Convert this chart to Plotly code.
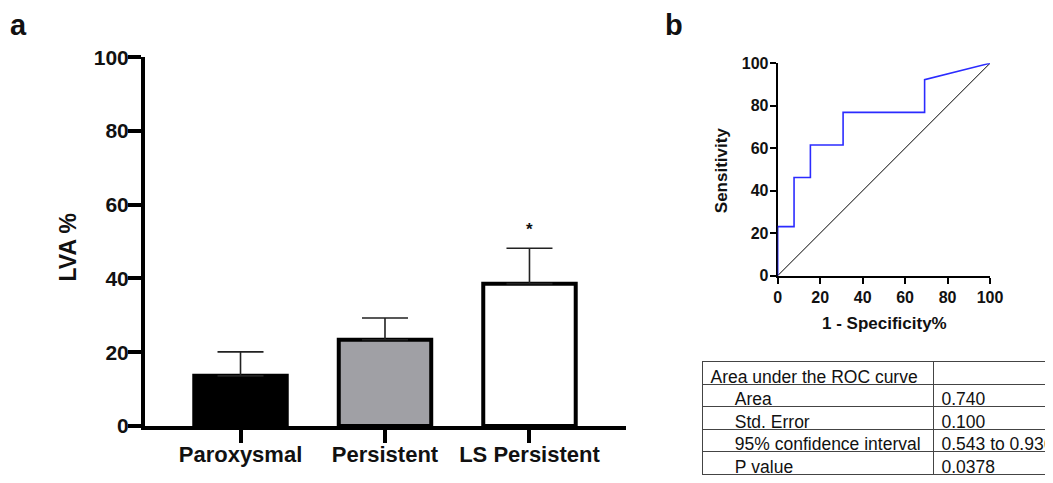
import plotly.graph_objects as go

W, H = 1053, 483
OFF = 8  # page body margin offset of the figure on screen

# ---------------- data ----------------
groups = ["Paroxysmal", "Persistent", "LS Persistent"]
lva_mean = [13.6, 23.4, 38.6]
lva_err = [6.5, 5.9, 9.6]
bar_colors = ["#000000", "#a0a0a5", "#ffffff"]
y_ticks = [0, 20, 40, 60, 80, 100]

roc_fpr = [0, 0, 7.7, 7.7, 15.4, 15.4, 30.8, 30.8, 69.2, 69.2, 100]
roc_tpr = [0, 23.1, 23.1, 46.2, 46.2, 61.5, 61.5, 76.9, 76.9, 92.3, 100]
ref_line = [0, 100]
roc_ticks = [0, 20, 40, 60, 80, 100]

table_labels = ["Area under the ROC curve", "Area", "Std. Error",
                "95% confidence interval", "P value"]
table_values = ["", "0.740", "0.100", "0.543 to 0.936", "0.0378"]
table_indent = [0, 1, 1, 1, 1]

FONT = "Liberation Sans, Arial, Helvetica, sans-serif"


def px_x(p):
    return (p - OFF) / W


def px_y(p):
    return (H - (p - OFF)) / H


def nowrap(s):
    return s.replace(" ", "\u00a0")


fig = go.Figure()

# ---------------- panel a: bars ----------------
fig.add_trace(go.Bar(
    x=groups, y=lva_mean,
    marker=dict(color=bar_colors, line=dict(color="#000000", width=4)),
    width=0.64,
    error_y=dict(type="data", symmetric=False, array=lva_err,
                 arrayminus=[0] * len(lva_err), color="#222222",
                 thickness=1.6, width=23),
    xaxis="x", yaxis="y", showlegend=False,
))

# ---------------- panel b: ROC ----------------
fig.add_trace(go.Scatter(
    x=ref_line, y=ref_line, mode="lines",
    line=dict(color="#000000", width=1),
    xaxis="x2", yaxis="y2", showlegend=False,
))
fig.add_trace(go.Scatter(
    x=roc_fpr, y=roc_tpr, mode="lines",
    line=dict(color="#2b2bff", width=1.6),
    xaxis="x2", yaxis="y2", showlegend=False,
))

# ---------------- table ----------------
cell_text = [("\u00a0" * 5 if ind else "") + nowrap(t)
             for t, ind in zip(table_labels, table_indent)]
val_text = [nowrap(v) for v in table_values]
table_font = dict(family=FONT, size=17.5, color="#111111")
fig.add_trace(go.Table(
    domain=dict(x=[px_x(702.5), 1.0], y=[0.0, px_y(361.5)]),
    columnwidth=[231, 127],
    header=dict(values=[cell_text[0], val_text[0]],
                align="left", height=22.6,
                fill=dict(color="white"),
                line=dict(color="#444444", width=1),
                font=table_font),
    cells=dict(values=[cell_text[1:], val_text[1:]],
               align="left", height=22.6,
               fill=dict(color="white"),
               line=dict(color="#444444", width=1),
               font=table_font),
))

bold_tick_l = dict(family=FONT, size=21, color="#111111", weight="bold")
bold_tick_c = dict(family=FONT, size=22, color="#111111", weight="bold")
bold_tick_r = dict(family=FONT, size=16, color="#111111", weight="bold")

fig.update_layout(
    width=W, height=H,
    margin=dict(l=0, r=0, t=0, b=0, pad=0, autoexpand=False),
    paper_bgcolor="white", plot_bgcolor="white",
    font=dict(family=FONT, color="#111111"),
    xaxis=dict(
        domain=[px_x(145), px_x(626)],
        range=[-0.661, 2.668],
        type="category",
        showline=True, linecolor="#000000", linewidth=4,
        ticks="outside", ticklen=13, tickwidth=4, tickcolor="#000000",
        tickfont=bold_tick_c, showgrid=False, zeroline=False,
        anchor="y", automargin=False, ticklabelstandoff=-7,
    ),
    yaxis=dict(
        domain=[px_y(426), px_y(57.2)],
        range=[0, 100], tickvals=y_ticks,
        showline=True, linecolor="#000000", linewidth=4,
        ticks="outside", ticklen=13, tickwidth=4, tickcolor="#000000",
        tickfont=bold_tick_l, showgrid=False, zeroline=False,
        anchor="x", ticklabelstandoff=-5, automargin=False,
    ),
    xaxis2=dict(
        domain=[px_x(777.7), px_x(990)],
        range=[0, 100], tickvals=roc_ticks,
        showline=True, linecolor="#000000", linewidth=2,
        ticks="outside", ticklen=6, tickwidth=2, tickcolor="#000000",
        tickfont=bold_tick_r, showgrid=False, zeroline=False,
        anchor="y2", layer="below traces", automargin=False,
    ),
    yaxis2=dict(
        domain=[px_y(275.7), px_y(63.3)],
        range=[0, 100], tickvals=roc_ticks,
        showline=True, linecolor="#000000", linewidth=2,
        ticks="outside", ticklen=6, tickwidth=2, tickcolor="#000000",
        tickfont=bold_tick_r, showgrid=False, zeroline=False,
        anchor="x2", layer="below traces", automargin=False,
        ticklabelstandoff=-2,
    ),
)

ann_common = dict(xref="paper", yref="paper", showarrow=False,
                  xanchor="center", yanchor="middle")
fig.add_annotation(text="LVA %", x=px_x(67), y=px_y(247.5), textangle=-90,
                   font=dict(family=FONT, size=23, color="#111111", weight="bold"),
                   **ann_common)
fig.add_annotation(text="Sensitivity", x=px_x(721.7), y=px_y(170.5), textangle=-90,
                   font=dict(family=FONT, size=17, color="#111111", weight="bold"),
                   **ann_common)
fig.add_annotation(text="1 - Specificity%", x=px_x(884.3), y=px_y(323),
                   font=dict(family=FONT, size=17, color="#111111", weight="bold"),
                   **ann_common)
# panel letters
panel_font = dict(family=FONT, size=29, color="#111111", weight="bold")
fig.add_annotation(text="a", x=px_x(18), y=1.0, xref="paper", yref="paper",
                   showarrow=False, xanchor="center", yanchor="top",
                   borderpad=0, font=panel_font)
fig.add_annotation(text="b", x=px_x(674.3), y=1.0, xref="paper", yref="paper",
                   showarrow=False, xanchor="center", yanchor="top",
                   borderpad=0, font=panel_font)
# significance marker above the LS Persistent error bar
fig.add_annotation(text="*", x=groups[2], y=lva_mean[2] + lva_err[2],
                   xref="x", yref="y", showarrow=False,
                   xanchor="center", yanchor="bottom", yshift=7,
                   font=dict(family=FONT, size=17, color="#111111", weight="bold"))

fig.write_html("out.html")
